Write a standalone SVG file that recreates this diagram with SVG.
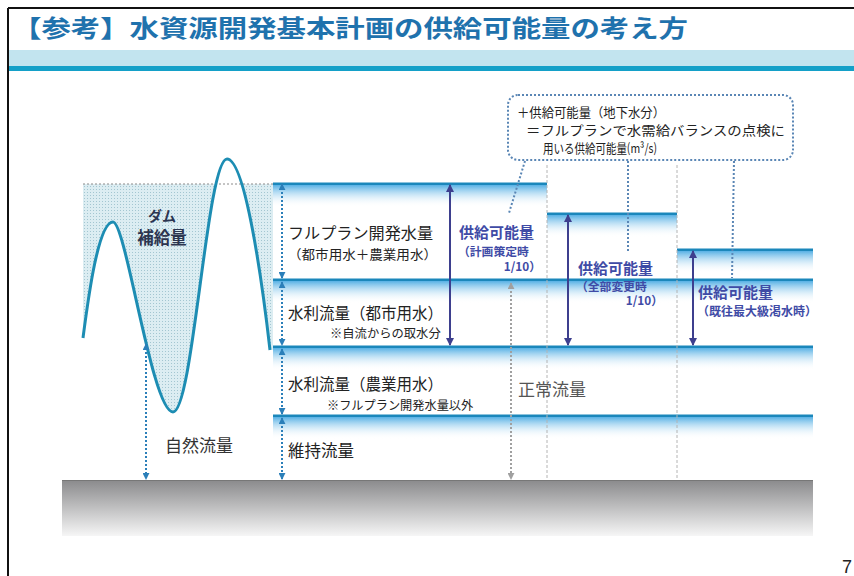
<svg xmlns="http://www.w3.org/2000/svg" width="854" height="576" viewBox="0 0 854 576">
<defs>
<style>
.jp{font-family:"Noto Sans CJK JP","Noto Sans",sans-serif}
.lbl{font-size:16px;fill:#222}
.sub{font-size:12.3px;fill:#222}
.sup{font-weight:bold;fill:#3f4ba6}
.ln{fill:#1b87bb}
.bd{fill:url(#band)}
.dot{stroke:#2b7fb9;stroke-width:2;stroke-dasharray:2 2;fill:none}
.navy{stroke:#3d3f8e;stroke-width:2;fill:none}
.gdot{stroke:#a0a0a0;stroke-width:2;stroke-dasharray:2 2;fill:none}
.guide{stroke:#b4b4b4;stroke-width:1;stroke-dasharray:3 2;fill:none}
.call{stroke:#5a86b5;stroke-width:2;stroke-dasharray:2 2;fill:none}
</style>
<linearGradient id="band" x1="0" y1="0" x2="0" y2="1">
<stop offset="0" stop-color="#3aa3e0" stop-opacity="0.85"/>
<stop offset="1" stop-color="#ffffff" stop-opacity="0"/>
</linearGradient>
<linearGradient id="ground" x1="0" y1="0" x2="0" y2="1">
<stop offset="0" stop-color="#8a8a8c"/>
<stop offset="1" stop-color="#f6f6f6"/>
</linearGradient>
<pattern id="dots" width="3" height="3" patternUnits="userSpaceOnUse">
<rect width="3" height="3" fill="#dcedf2"/>
<rect width="1" height="1" fill="#a3c6d1"/>
</pattern>
<clipPath id="damclip">
<path d="M83,140 L83,338 C88,300 98,222 113,222 C126,222 152,412 173,412 C193,412 207,159 227,159 C245,159 262,280 270,350 L273,350 L273,140 Z"/>
</clipPath>
<marker id="ab" viewBox="0 0 8 8" refX="7" refY="4" markerWidth="3.5" markerHeight="3.5" orient="auto-start-reverse">
<path d="M0,0 L8,4 L0,8 Z" fill="#2b7fb9"/>
</marker>
<marker id="an" viewBox="0 0 8 8" refX="7" refY="4" markerWidth="4" markerHeight="4" orient="auto-start-reverse">
<path d="M0,0 L8,4 L0,8 Z" fill="#3d3f8e"/>
</marker>
<marker id="ag" viewBox="0 0 8 8" refX="7" refY="4" markerWidth="3.5" markerHeight="3.5" orient="auto-start-reverse">
<path d="M0,0 L8,4 L0,8 Z" fill="#a0a0a0"/>
</marker>
</defs>

<rect width="854" height="576" fill="#ffffff"/>

<g id="frame">
<line x1="8" y1="8" x2="854" y2="8" stroke="#111" stroke-width="2"/>
<line x1="8" y1="8" x2="8" y2="576" stroke="#111" stroke-width="2"/>
</g>

<g id="title">
<text class="jp" x="12" y="37" font-size="24" font-weight="bold" fill="#1f72ad" textLength="676" lengthAdjust="spacingAndGlyphs">【参考】水資源開発基本計画の供給可能量の考え方</text>
<rect x="9" y="50" width="845" height="16" fill="#c2e4ef"/>
<rect x="9" y="66" width="845" height="5" fill="#14a0c8"/>
</g>

<g id="ground">
<rect x="62" y="480" width="751" height="56" fill="url(#ground)"/>
<line x1="62" y1="480.5" x2="813" y2="480.5" stroke="#777" stroke-width="1"/>
</g>

<g id="dam">
<rect x="83" y="184" width="190" height="240" fill="url(#dots)" clip-path="url(#damclip)"/>
<line x1="83" y1="184" x2="273" y2="184" stroke="#8a8a8a" stroke-width="1" stroke-dasharray="2 2"/>
<path d="M83,338 C88,300 98,222 113,222 C126,222 152,412 173,412 C193,412 207,159 227,159 C245,159 262,280 270,350" fill="none" stroke="#1d8db3" stroke-width="3"/>
<text class="jp" x="162" y="221" font-size="14" font-weight="bold" fill="#2c3550" text-anchor="middle">ダム</text>
<text class="jp" x="162" y="244" font-size="16.5" font-weight="bold" fill="#2c3550" text-anchor="middle">補給量</text>
</g>

<g id="layers">
<rect class="bd" x="273" y="185" width="274" height="22"/>
<rect class="ln" x="273" y="182.5" width="274" height="2.5"/>
<rect class="bd" x="547" y="215" width="130" height="22"/>
<rect class="ln" x="547" y="212.5" width="130" height="2.5"/>
<rect class="bd" x="677" y="251" width="136" height="22"/>
<rect class="ln" x="677" y="248.5" width="136" height="2.5"/>
<rect class="bd" x="273" y="281" width="540" height="22"/>
<rect class="ln" x="273" y="278.5" width="540" height="2.5"/>
<rect class="bd" x="273" y="348" width="540" height="22"/>
<rect class="ln" x="273" y="345.5" width="540" height="2.5"/>
<rect class="bd" x="273" y="417" width="540" height="22"/>
<rect class="ln" x="273" y="414.5" width="540" height="2.5"/>
</g>

<g id="guides">
<line class="guide" x1="547" y1="165" x2="547" y2="480"/>
<line class="guide" x1="677" y1="165" x2="677" y2="480"/>
</g>

<g id="connectors">
<line class="dot" x1="146" y1="344" x2="146" y2="479" marker-start="url(#ab)" marker-end="url(#ab)"/>
<line class="dot" x1="282" y1="184" x2="282" y2="278" marker-start="url(#ab)" marker-end="url(#ab)"/>
<line class="dot" x1="282" y1="282" x2="282" y2="345" marker-start="url(#ab)" marker-end="url(#ab)"/>
<line class="dot" x1="282" y1="349" x2="282" y2="414" marker-start="url(#ab)" marker-end="url(#ab)"/>
<line class="dot" x1="282" y1="418" x2="282" y2="479" marker-start="url(#ab)" marker-end="url(#ab)"/>
<line class="navy" x1="450" y1="185" x2="450" y2="345" marker-start="url(#an)" marker-end="url(#an)"/>
<line class="navy" x1="568" y1="215" x2="568" y2="345" marker-start="url(#an)" marker-end="url(#an)"/>
<line class="navy" x1="693" y1="251" x2="693" y2="345" marker-start="url(#an)" marker-end="url(#an)"/>
<line class="gdot" x1="511" y1="283" x2="511" y2="479" marker-start="url(#ag)" marker-end="url(#ag)"/>
<line class="call" x1="525" y1="161" x2="509" y2="213"/>
<line class="call" x1="628" y1="161" x2="628" y2="253"/>
<line class="call" x1="734" y1="161" x2="732" y2="278"/>
</g>

<g id="natural-flow">
<text class="jp" x="165" y="452" font-size="17" fill="#333">自然流量</text>
</g>

<g id="fullplan">
<text class="jp" x="288" y="239" font-size="15.5" fill="#222" textLength="145" lengthAdjust="spacingAndGlyphs">フルプラン開発水量</text>
<text class="jp" x="288" y="258.5" font-size="13" fill="#222" textLength="149" lengthAdjust="spacingAndGlyphs">（都市用水＋農業用水）</text>
</g>

<g id="urban">
<text class="jp lbl" x="288" y="319" textLength="155" lengthAdjust="spacingAndGlyphs">水利流量（都市用水）</text>
<text class="jp sub" x="330" y="338">※自流からの取水分</text>
</g>

<g id="agri">
<text class="jp lbl" x="288" y="390" textLength="155" lengthAdjust="spacingAndGlyphs">水利流量（農業用水）</text>
<text class="jp" x="327" y="410" font-size="12.2" fill="#222">※フルプラン開発水量以外</text>
</g>

<g id="maintain">
<text class="jp" x="288" y="457" font-size="16.5" fill="#222">維持流量</text>
</g>

<g id="normal">
<text class="jp" x="518" y="396" font-size="17" fill="#555">正常流量</text>
</g>

<g id="supply1">
<text class="jp sup" x="459" y="237.5" font-size="15">供給可能量</text>
<text class="jp sup" x="458" y="255.5" font-size="11.8">（計画策定時</text>
<text class="jp sup" x="541" y="270.5" font-size="11.8" text-anchor="end">1/10）</text>
</g>

<g id="supply2">
<text class="jp sup" x="578" y="274" font-size="15">供給可能量</text>
<text class="jp sup" x="576" y="291" font-size="11.8">（全部変更時</text>
<text class="jp sup" x="663" y="305" font-size="11.8" text-anchor="end">1/10）</text>
</g>

<g id="supply3">
<text class="jp sup" x="698" y="298" font-size="15">供給可能量</text>
<text class="jp sup" x="697" y="316" font-size="12">（既往最大級渇水時）</text>
</g>

<g id="callout">
<rect class="call" x="508" y="95" width="285" height="65" rx="10"/>
<text class="jp" x="517" y="117" font-size="13" fill="#222" textLength="148" lengthAdjust="spacingAndGlyphs">＋供給可能量（地下水分）</text>
<text class="jp" x="526" y="135" font-size="13" fill="#222" textLength="259" lengthAdjust="spacingAndGlyphs">＝フルプランで水需給バランスの点検に</text>
<text class="jp" x="543" y="153" font-size="13" fill="#222" textLength="114" lengthAdjust="spacingAndGlyphs">用いる供給可能量(m³/s)</text>
</g>

<g id="page">
<text x="842" y="573" font-family="Liberation Sans, sans-serif" font-size="18" fill="#222">7</text>
</g>
</svg>
